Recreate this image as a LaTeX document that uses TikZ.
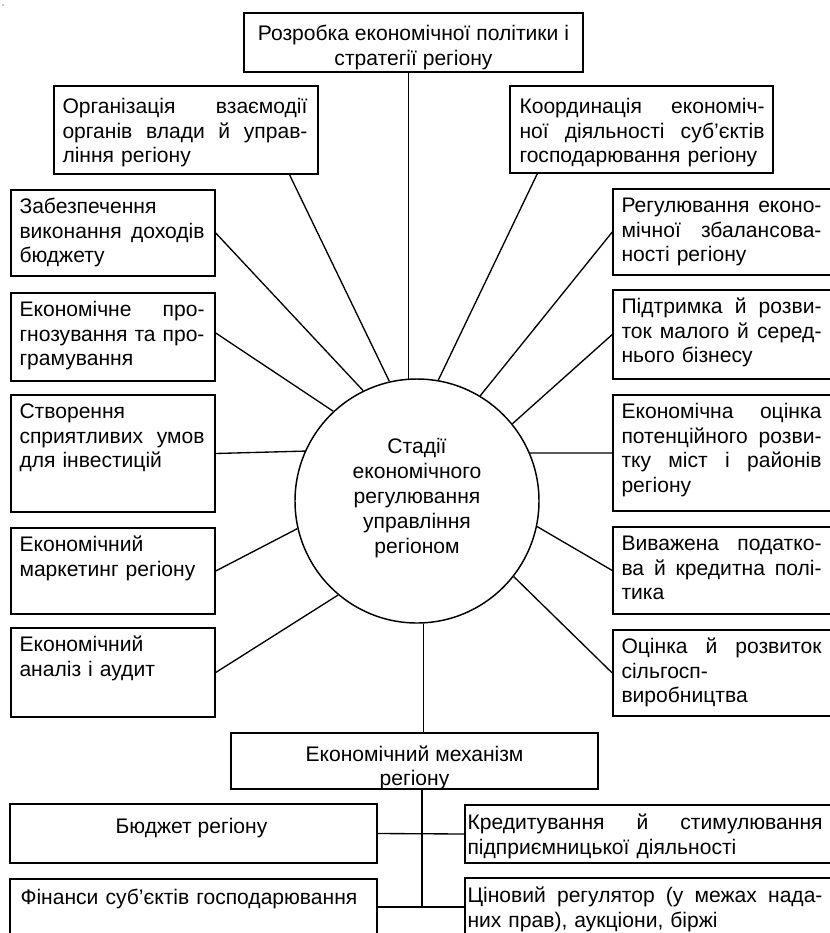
\documentclass[tikz,border=0pt]{standalone}
\usepackage{fontspec}
\setmainfont{Liberation Sans}
\usetikzlibrary{fit,calc}
\newcommand{\jl}[1]{{\spaceskip=0pt\xspaceskip=0pt\makebox[\hsize][s]{#1}}}
\begin{document}
\begin{tikzpicture}[x=0.75pt,y=-0.75pt,
  box/.style={draw,line width=1.1pt,inner sep=0pt},
  txt/.style={inner sep=0pt,anchor=north west,align=left,font=\fontsize{15.8}{18.4}\selectfont,execute at begin node=\strut},
  txtc/.style={inner sep=0pt,anchor=north,align=center,font=\fontsize{15.8}{18.4}\selectfont,execute at begin node=\strut},
  conn/.style={line width=1pt}]
\useasboundingbox (0,0) rectangle (830,933);
\clip (0,0) rectangle (830,933);
\fill (3,5) circle (0.7);
% centre
\node[draw,circle,line width=1.1pt,inner sep=0pt,minimum size=183pt] (c) at (417,501) {};
\node[align=center,inner sep=0pt,font=\fontsize{15.8}{18.75}\selectfont] (cT) at (417,498)
 {Стадії\\економічного\\регулювання\\управління\\регіоном};
% top
\node[box,fit={(244,13)(583,72)}] (top) {};
\node[txtc] (topT) at ([shift={(0,13)}]top.north) {Розробка економічної політики і\\стратегії регіону};
% left column
\node[box,fit={(54,86)(318,174)}] (org) {};
\node[txt,text width=183.75pt] (orgT) at ([shift={(9,11)}]org.north west)
 {\jl{Організація взаємодії}\\\jl{органів влади й управ-}\\ління регіону};
\node[box,fit={(11,190)(215,276)}] (zab) {};
\node[txt,text width=138.75pt] (zabT) at ([shift={(9,7)}]zab.north west)
 {Забезпечення\\\jl{виконання доходів}\\бюджету};
\node[box,fit={(11,293)(215,381)}] (prog) {};
\node[txt,text width=138.75pt] (progT) at ([shift={(9,7)}]prog.north west)
 {\jl{Економічне про-}\\\jl{гнозування та про-}\\грамування};
\node[box,fit={(11,395)(215,512)}] (stv) {};
\node[txt,text width=138.75pt] (stvT) at ([shift={(9,7)}]stv.north west)
 {Створення\\\jl{сприятливих умов}\\для інвестицій};
\node[box,fit={(11,528)(215,614)}] (mark) {};
\node[txt,text width=138.75pt] (markT) at ([shift={(9,7)}]mark.north west)
 {Економічний\\маркетинг регіону};
\node[box,fit={(11,628)(215,717)}] (anal) {};
\node[txt,text width=138.75pt] (analT) at ([shift={(9,7)}]anal.north west)
 {Економічний\\аналіз і аудит};
% right column
\node[box,fit={(510,86)(773,173)}] (koord) {};
\node[txt,text width=183.75pt] (koordT) at ([shift={(10,11)}]koord.north west)
 {\jl{Координація економіч-}\\\jl{ної діяльності суб’єктів}\\господарювання регіону};
\node[box,fit={(613,189)(845,275)}] (reg) {};
\node[txt,text width=150pt] (regT) at ([shift={(9,7)}]reg.north west)
 {\jl{Регулювання еконо-}\\\jl{мічної збалансова-}\\ності регіону};
\node[box,fit={(613,290)(845,379)}] (pidt) {};
\node[txt,text width=150pt] (pidtT) at ([shift={(9,7)}]pidt.north west)
 {\jl{Підтримка й розви-}\\\jl{ток малого й серед-}\\нього бізнесу};
\node[box,fit={(613,395)(845,511)}] (ocin) {};
\node[txt,text width=150pt] (ocinT) at ([shift={(9,7)}]ocin.north west)
 {\jl{Економічна оцінка}\\\jl{потенційного розви-}\\\jl{тку міст і районів}\\регіону};
\node[box,fit={(613,527)(845,614)}] (vyv) {};
\node[txt,text width=150pt] (vyvT) at ([shift={(9,7)}]vyv.north west)
 {\jl{Виважена податко-}\\\jl{ва й кредитна полі-}\\тика};
\node[box,fit={(613,630)(845,716)}] (silg) {};
\node[txt,text width=150pt] (silgT) at ([shift={(9,7)}]silg.north west)
 {\jl{Оцінка й розвиток}\\сільгосп-\\виробництва};
% bottom
\node[box,fit={(231,733)(598,789)}] (mech) {};
\node[txtc] (mechT) at ([shift={(0,13)}]mech.north) {Економічний механізм\\регіону};
\node[box,fit={(10,804)(377,863)}] (budg) {};
\node[txtc] (budgT) at ([shift={(-2,13)}]budg.north) {Бюджет регіону};
\node[box,fit={(10,879)(377,960)}] (fin) {};
\node[txt,text width=266pt] (finT) at ([shift={(11,9)}]fin.north west) {Фінанси суб’єктів господарювання};
\node[box,fit={(465,805)(845,863)}] (kred) {};
\node[txt,text width=266.25pt] (kredT) at ([shift={(3,8)}]kred.north west)
 {\jl{Кредитування й стимулювання}\\підприємницької діяльності};
\node[box,fit={(465,878)(845,960)}] (cin) {};
\node[txt,text width=266.25pt] (cinT) at ([shift={(3,8)}]cin.north west)
 {\jl{Ціновий регулятор (у межах нада-}\\них прав), аукціони, біржі};
% connectors
\draw[conn] (c.94.7) -- (c.94.7 |- top.south);
\draw[conn] (c.103.8) -- ($(org.south west)!0.89!(org.south east)$);
\draw[conn] (c.116.6) -- (zab.east);
\draw[conn] (c.133) -- ([yshift=3pt]prog.east);
\draw[conn] (c.156.8) -- (stv.east);
\draw[conn] (c.193) -- (mark.east);
\draw[conn] (c.230.5) -- (anal.east);
\draw[conn] (c.80) -- ($(koord.south west)!0.106!(koord.south east)$);
\draw[conn] (c.59.6) -- (reg.west);
\draw[conn] (c.39.6) -- (pidt.west);
\draw[conn] (c.23.2) -- (ocin.west);
\draw[conn] (c.-12.2) -- (vyv.west);
\draw[conn] (c.-38.7) -- (silg.west);
\draw[conn] (c.-87.7) -- (c.-87.7 |- mech.north);
\coordinate (tr) at (422,907);
\draw[conn] (mech.south -| tr) -- (tr);
\draw[conn] (budg.east) -- (kred.west);
\draw[conn] (fin.east |- tr) -- (cin.west |- tr);
\end{tikzpicture}
\end{document}
